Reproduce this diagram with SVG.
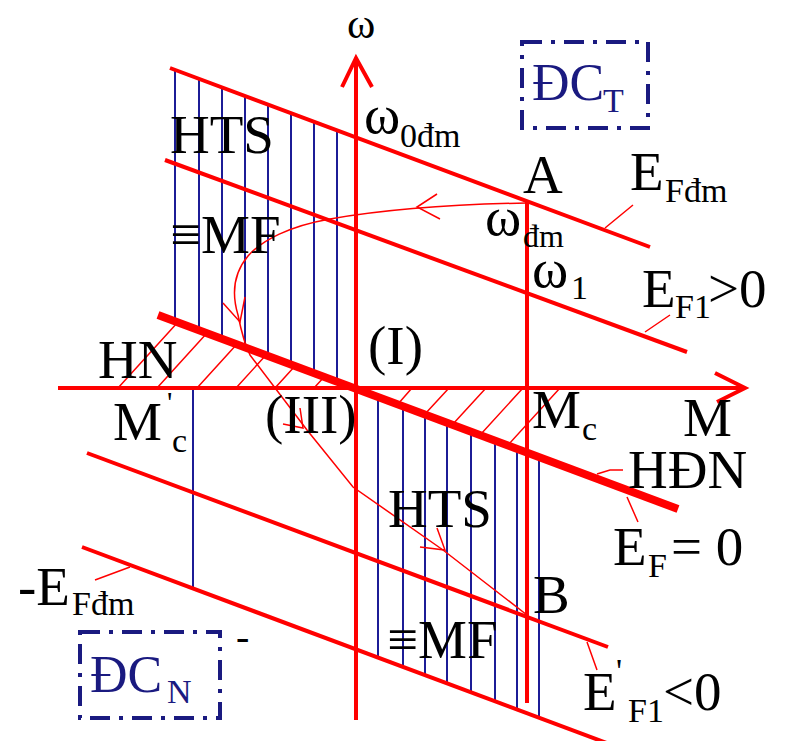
<svg xmlns="http://www.w3.org/2000/svg" width="787" height="741" viewBox="0 0 787 741">
<style>
.red{stroke:#ff0000;fill:none;stroke-linecap:butt}
.ax{stroke-width:4}
.ln{stroke-width:4}
.thick{stroke-width:8}
.thin{stroke-width:1.5}
.blue{stroke:#1c1c96;stroke-width:2;fill:none}
.box{stroke:#1a1a80;stroke-width:4;fill:none;stroke-dasharray:20,9,4,9}
text{font-family:"Liberation Serif","Times New Roman",serif;fill:#000}
.L{font-size:55px}
.S{font-size:34px}
.nv{fill:#1a1a80}
</style>
<rect width="787" height="741" fill="#fff"/>

<g id="hatch-blue">
<path class="blue" d="M175,70V321M199,79V330M222,87V338M245,96V347M268,105V355M291,113V364M314,122V372M337,130V381"/>
<path class="blue" d="M378,396V657M403,405V667M425,414V675M447,422V683M471,431V692M495,440V701M517,448V709M539,456V717"/>
<path class="blue" d="M193,388V588"/>
</g>

<g id="hatch-red">
<path class="red thin" d="M118,388L178,322M157,388L207,333M197,388L237,344M236,388L266,355M275,388L295,366M314,388L325,376"/>
<path class="red thin" d="M412,388L398,404M449,388L425,414M486,388L453,424M523,388L481,434M560,388L508,445"/>
</g>

<g id="axes">
<path class="red ax" d="M356,720V60"/>
<path class="red ax" d="M342,87L356,58L372,87"/>
<path class="red ax" d="M58,388H743"/>
<path class="red ax" d="M715,373L745,388L717,402"/>
</g>

<g id="characteristics">
<path class="red ln" d="M170,68L650,247"/>
<path class="red ln" d="M165,160L687,352"/>
<path class="red thick" d="M158,315L678,509"/>
<path class="red ln" d="M87,453L608,647"/>
<path class="red ln" d="M82,547L612,745"/>
<path class="red ln" d="M527,202V703"/>
</g>

<g id="connectors">
<path class="red thin" d="M527,203C470,204 400,207 330,219C290,226 262,240 248,256C232,275 232,295 238,315C241,330 244,343 250,355L307,430L353,487L443,550L527,615"/>
<path class="red thin" d="M437,194L417,207L440,219"/>
<path class="red thin" d="M223,303L240,322L245,297"/>
<path class="red thin" d="M283,424L303,428L300,408"/>
<path class="red thin" d="M420,547L445,550L437,528"/>
<path class="red thin" d="M605,228L633,205M645,332L670,315M597,474L610,470H623M627,497L638,522M587,642L597,670M95,580L130,567"/>
</g>

<g id="labels">
<text class="L" x="347" y="38" style="font-size:43px">ω</text>
<text class="L" x="170" y="153">HTS</text>
<text class="L" x="170" y="253">≡MF</text>
<text class="L" x="364" y="133">ω</text><text class="S" x="400" y="147">0đm</text>
<text class="L" x="523" y="193">A</text>
<text class="L" x="630" y="190">E</text><text class="S" x="665" y="202">Fđm</text>
<text class="L" x="485" y="235">ω</text><text class="S" x="523" y="247" style="font-size:32px">đm</text>
<text class="L" x="532" y="287">ω</text><text class="S" x="571" y="299">1</text>
<text class="L" x="642" y="307">E</text><text class="S" x="675" y="318">F1</text><text class="L" x="708" y="307">&gt;0</text>
<text class="L" x="368" y="364">(I)</text>
<text class="L" x="98" y="378">HN</text>
<text class="L" x="113" y="440">M</text><text class="S" x="167" y="412" style="font-size:30px">'</text><text class="S" x="172" y="452">c</text>
<text class="L" x="265" y="433">(III)</text>
<text class="L" x="532" y="428">M</text><text class="S" x="582" y="440">c</text>
<text class="L" x="683" y="436">M</text>
<text class="L" x="628" y="488">HĐN</text>
<text class="L" x="613" y="565">E</text><text class="S" x="648" y="577">F</text><text class="L" x="671" y="565">= 0</text>
<text class="L" x="388" y="527">HTS</text>
<text class="L" x="387" y="658">≡MF</text>
<text class="L" x="533" y="613">B</text>
<text class="L" x="583" y="710">E</text><text class="S" x="616" y="682">'</text><text class="S" x="628" y="722">F1</text><text class="L" x="663" y="710">&lt;0</text>
<text class="L" x="18" y="605">-E</text><text class="S" x="72" y="615">Fđm</text>
<text class="L" x="236" y="650" style="font-size:40px">-</text>
</g>

<g id="DC_T">
<rect class="box" x="522" y="42" width="126" height="86"/>
<text class="L nv" x="532" y="100" style="font-size:52px">ĐC</text><text class="S nv" x="603" y="112">T</text>
</g>
<g id="DC_N">
<rect class="box" x="80" y="632" width="140" height="86"/>
<text class="L nv" x="90" y="692" style="font-size:52px">ĐC</text><text class="S nv" x="167" y="703">N</text>
</g>
</svg>
